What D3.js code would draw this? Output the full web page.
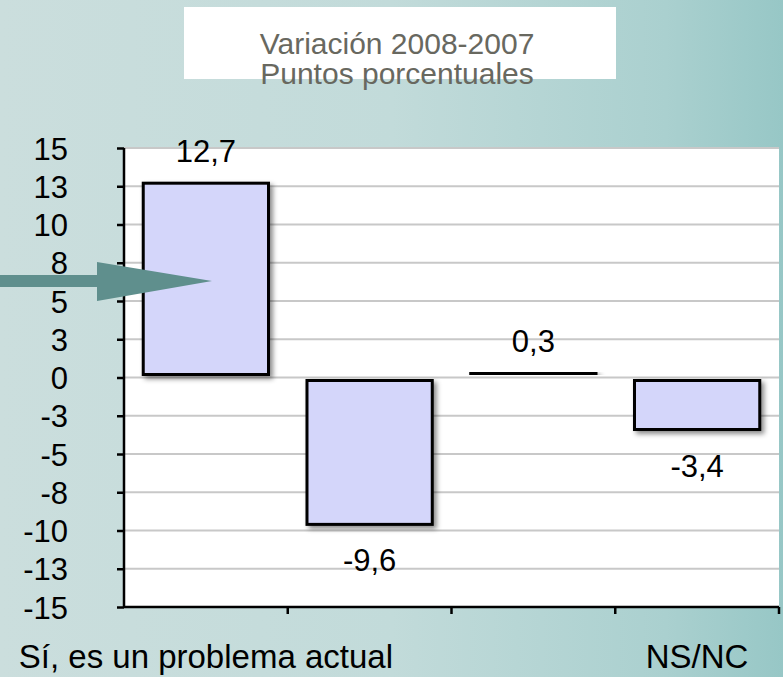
<!DOCTYPE html>
<html lang="es">
<head>
    <meta charset="UTF-8">
    <title>Variación 2008-2007</title>
    <style>
        html, body { margin: 0; padding: 0; }
        body { width: 783px; height: 677px; overflow: hidden; font-family: "Liberation Sans", Arial, sans-serif; }
    </style>
    <script src="https://d3js.org/d3.v7.min.js"></script>
</head>
<body>
    <div id="chart"></div>

    <script>
        // chart data
        const categories = ["Sí, es un problema actual", "No es un problema", "Será un problema futuro", "NS/NC"];
        const shownCategories = ["Sí, es un problema actual", "NS/NC"]; // Excel skips the others
        const values = [12.7, -9.6, 0.3, -3.4];
        const valueLabels = ["12,7", "-9,6", "0,3", "-3,4"];
        const tickValues = [15, 12.5, 10, 7.5, 5, 2.5, 0, -2.5, -5, -7.5, -10, -12.5, -15];
        const tickLabels = ["15", "13", "10", "8", "5", "3", "0", "-3", "-5", "-8", "-10", "-13", "-15"];
        const titleLines = ["Variación 2008-2007", "Puntos porcentuales"];

        const W = 783, H = 677;
        const plot = {left: 124, right: 779, top: 148, bottom: 607};

        const svg = d3.select('#chart').append('svg')
            .attr('width', W)
            .attr('height', H);

        const defs = svg.append('defs');
        const bg = defs.append('linearGradient').attr('id', 'bg')
            .attr('x1', 0).attr('y1', 0).attr('x2', 1).attr('y2', 0);
        bg.append('stop').attr('offset', '0%').attr('stop-color', '#cbdedd');
        bg.append('stop').attr('offset', '50%').attr('stop-color', '#c2dbda');
        bg.append('stop').attr('offset', '85%').attr('stop-color', '#aad0cf');
        bg.append('stop').attr('offset', '100%').attr('stop-color', '#97c7c6');

        const shadow = defs.append('filter').attr('id', 'shadow')
            .attr('x', '-20%').attr('y', '-20%').attr('width', '140%').attr('height', '140%');
        shadow.append('feDropShadow')
            .attr('dx', 3).attr('dy', 3).attr('stdDeviation', 2.5)
            .attr('flood-color', '#000').attr('flood-opacity', 0.45);

        // background
        svg.append('rect').attr('width', W).attr('height', H).attr('fill', 'url(#bg)');

        // title box
        svg.append('rect')
            .attr('x', 184).attr('y', 7).attr('width', 432).attr('height', 72)
            .attr('fill', '#fff');
        svg.append('g').selectAll('text')
            .data(titleLines)
            .enter().append('text')
              .attr('x', 397)
              .attr('y', (d, i) => 54 + i * 30)
              .attr('text-anchor', 'middle')
              .attr('font-size', 30)
              .attr('fill', '#68685f')
              .text(d => d);

        // scales
        const x = d3.scaleBand()
            .domain(categories)
            .range([plot.left, plot.right])
            .paddingInner(0.235)
            .paddingOuter(0.1175);

        const y = d3.scaleLinear()
            .domain([-15, 15])
            .range([plot.bottom, plot.top]);

        // plot area + gridlines
        svg.append('rect')
            .attr('x', plot.left).attr('y', plot.top)
            .attr('width', plot.right - plot.left).attr('height', plot.bottom - plot.top)
            .attr('fill', '#fff');

        svg.append('g')
            .selectAll('line')
            .data(tickValues.filter(v => v !== -15))
            .enter().append('line')
              .attr('x1', plot.left).attr('x2', plot.right)
              .attr('y1', d => y(d)).attr('y2', d => y(d))
              .attr('stroke', '#c8c8c8')
              .attr('stroke-width', 2);

        // bars (Excel leaves a small gap at the zero line)
        const gap = 3;
        svg.append('g')
            .selectAll('rect')
            .data(values)
            .enter().append('rect')
              .attr('x', (d, i) => x(categories[i]))
              .attr('width', x.bandwidth())
              .attr('y', d => d >= 0 ? y(d) : y(0) + gap)
              .attr('height', d => Math.max(0.5, Math.abs(y(d) - y(0)) - gap))
              .attr('fill', '#d4d6fa')
              .attr('stroke', '#000')
              .attr('stroke-width', 3)
              .attr('filter', 'url(#shadow)');

        // value labels
        svg.append('g')
            .selectAll('text')
            .data(values)
            .enter().append('text')
              .attr('x', (d, i) => x(categories[i]) + x.bandwidth() / 2)
              .attr('y', d => d >= 0 ? y(d) - 21 : y(d) + 47)
              .attr('text-anchor', 'middle')
              .attr('font-size', 31)
              .attr('fill', '#000')
              .text((d, i) => valueLabels[i]);

        // y axis
        const yAxis = svg.append('g')
            .attr('transform', `translate(${plot.left},0)`)
            .call(d3.axisLeft(y)
                .tickValues(tickValues)
                .tickSize(7)
                .tickPadding(49)
                .tickFormat((d, i) => tickLabels[i]));
        yAxis.select('.domain').attr('stroke', '#000').attr('stroke-width', 2.5)
            .attr('d', `M0,${plot.top}V${plot.bottom}`);
        yAxis.selectAll('.tick line').attr('stroke', '#000').attr('stroke-width', 2.5);
        yAxis.selectAll('.tick text')
            .attr('font-family', '"Liberation Sans", Arial, sans-serif')
            .attr('font-size', 31)
            .attr('fill', '#000')
            .attr('x', -56)
            .attr('dy', '0.36em');

        // x axis: ticks at band boundaries
        const step = x.step();
        const xAxis = svg.append('g');
        xAxis.append('line')
            .attr('x1', plot.left).attr('x2', plot.right)
            .attr('y1', plot.bottom).attr('y2', plot.bottom)
            .attr('stroke', '#000').attr('stroke-width', 2.5);
        xAxis.selectAll('.xtick')
            .data(categories)
            .enter().append('line')
              .attr('class', 'xtick')
              .attr('x1', d => x(d) - step * 0.1175 + step)
              .attr('x2', d => x(d) - step * 0.1175 + step)
              .attr('y1', plot.bottom).attr('y2', plot.bottom + 7)
              .attr('stroke', '#000').attr('stroke-width', 2.5);

        xAxis.selectAll('.xlabel')
            .data(shownCategories)
            .enter().append('text')
              .attr('class', 'xlabel')
              .attr('x', d => x(d) + x.bandwidth() / 2)
              .attr('y', 668)
              .attr('text-anchor', 'middle')
              .attr('font-size', 33)
              .attr('fill', '#000')
              .text(d => d);

        // pointer arrow
        svg.append('path')
            .attr('d', 'M0,275 L97,275 L97,262 L212,281 L97,301 L97,287 L0,287 Z')
            .attr('fill', '#5f8f8d');
    </script>
</body>
</html>
